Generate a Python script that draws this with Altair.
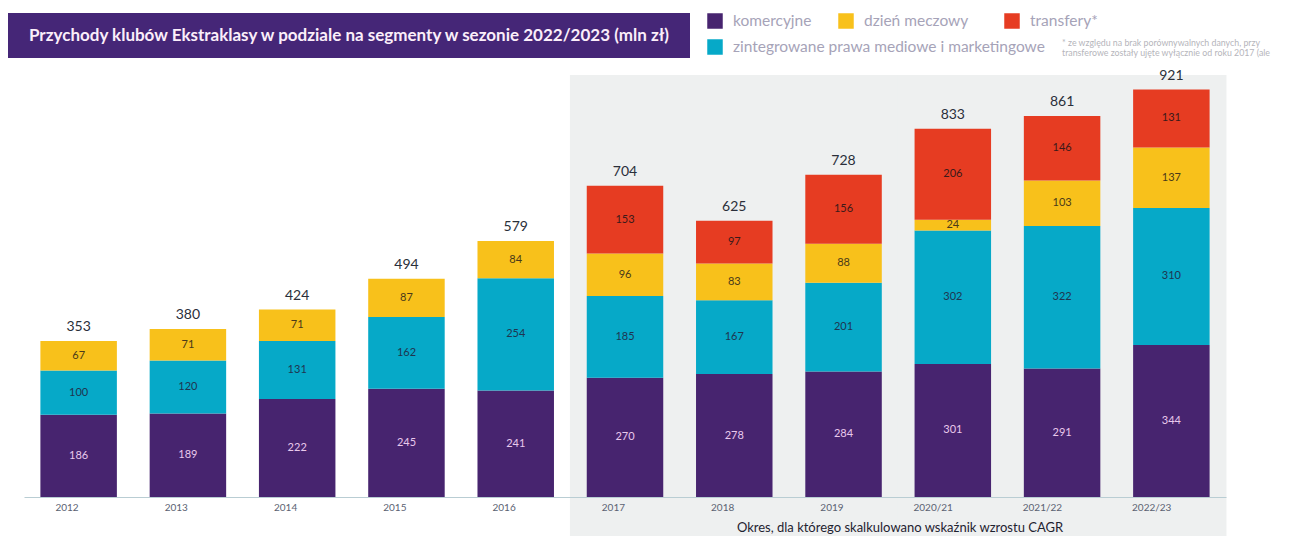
import altair as alt
import pandas as pd

years = ["2012", "2013", "2014", "2015", "2016", "2017", "2018", "2019", "2020/21", "2021/22", "2022/23"]
komercyjne = [186, 189, 222, 245, 241, 270, 278, 284, 301, 291, 344]
zintegrowane = [100, 120, 131, 162, 254, 185, 167, 201, 302, 322, 310]
dzien_meczowy = [67, 71, 71, 87, 84, 96, 83, 88, 24, 103, 137]
transfery = [0, 0, 0, 0, 0, 153, 97, 156, 206, 146, 131]
totals = [353, 380, 424, 494, 579, 704, 625, 728, 833, 861, 921]
cagr_years = years[5:]

seg_names = ["komercyjne", "zintegrowane prawa mediowe i marketingowe", "dzień meczowy", "transfery*"]
seg_values = [komercyjne, zintegrowane, dzien_meczowy, transfery]
seg_colors = ["#47246f", "#06a9c8", "#f8c11b", "#e63c22"]
label_colors = ["#e9c9ec", "#1f3550", "#4a3a1a", "#3a1a1a"]

rows = []
for i, (name, vals) in enumerate(zip(seg_names, seg_values)):
    for y, v in zip(years, vals):
        if v > 0:
            rows.append({"year": y, "segment": name, "value": v, "ord": i})
df = pd.DataFrame(rows)
tot_df = pd.DataFrame({"year": years, "total": totals})
bg_df = pd.DataFrame({"year": cagr_years})

W, H = 1202, 442
PX, PY = 24, 55  # page offset of plot area

xscale = alt.Scale(domain=years, paddingInner=0.3, paddingOuter=0.15)
yscale = alt.Scale(domain=[0, 1000])

X = alt.X("year:N", scale=xscale, sort=years, title=None,
          axis=alt.Axis(labelAngle=0, labelFont="Lato", labelFontSize=10, labelColor="#5b6272",
                        ticks=False, tickSize=0, labelPadding=10, domainColor="#b9cdd3", domainWidth=1,
                        grid=False, zindex=1))

bg = alt.Chart(bg_df).mark_bar(color="#eef0f0", width={"band": 1 / 0.7 + 0.012}).encode(
    x=alt.X("year:N", scale=xscale, sort=years, title=None),
    y=alt.value(75 - PY), y2=alt.value(560 - PY))

bars = alt.Chart(df).transform_stack(
    stack="value", groupby=["year"], sort=[alt.SortField("ord", order="ascending")], as_=["y0", "y1"]
).mark_bar().encode(
    x=X,
    y=alt.Y("y0:Q", scale=yscale, axis=None),
    y2="y1:Q",
    color=alt.Color("segment:N", scale=alt.Scale(domain=seg_names, range=seg_colors), legend=None),
)

seg_labels = alt.Chart(df).transform_stack(
    stack="value", groupby=["year"], sort=[alt.SortField("ord", order="ascending")], as_=["y0", "y1"]
).transform_calculate(mid="(datum.y0 + datum.y1) / 2").mark_text(
    font="Lato", fontSize=11, baseline="middle"
).encode(
    x=alt.X("year:N", scale=xscale, sort=years),
    y=alt.Y("mid:Q", scale=yscale),
    text="value:Q",
    color=alt.Color("segment:N", scale=alt.Scale(domain=seg_names, range=label_colors), legend=None),
)

tot_labels = alt.Chart(tot_df).mark_text(
    font="Lato", fontSize=14, color="#2a2f3a", baseline="middle", dy=-14
).encode(
    x=alt.X("year:N", scale=xscale, sort=years),
    y=alt.Y("total:Q", scale=yscale),
    text="total:Q",
)

deco = []
# title box
deco.append(alt.Chart(tot_df.head(1)).mark_rect(color="#452677").encode(
    x=alt.value(5 - PX), x2=alt.value(690 - PX), y=alt.value(13 - PY), y2=alt.value(58 - PY)))
deco.append(alt.Chart(tot_df.head(1)).mark_text(
    text="Przychody klubów Ekstraklasy  w podziale na segmenty w sezonie 2022/2023 (mln zł)",
    font="Lato", fontSize=17, fontWeight="bold", color="#fbeefa", align="center", baseline="middle"
).encode(x=alt.value(349 - PX), y=alt.value(36 - PY)))

# legend
legend_items = [
    (seg_names[0], seg_colors[0], 715, 21),
    (seg_names[2], seg_colors[2], 846, 21),
    (seg_names[3], seg_colors[3], 1012, 21),
    (seg_names[1], seg_colors[1], 715, 47),
]
for name, col, cx, cy in legend_items:
    deco.append(alt.Chart(tot_df.head(1)).mark_square(size=240, color=col, opacity=1).encode(
        x=alt.value(cx - PX), y=alt.value(cy - PY)))
    deco.append(alt.Chart(tot_df.head(1)).mark_text(
        text=name, font="Lato", fontSize=15.5, color="#a6a3b8", align="left", baseline="middle"
    ).encode(x=alt.value(cx + 18 - PX), y=alt.value(cy - PY)))

# footnote
deco.append(alt.Chart(tot_df.head(1)).mark_text(
    text=["* ze względu na brak porównywalnych danych, przy",
          "transferowe zostały ujęte wyłącznie od roku 2017 (ale"],
    font="Lato", fontSize=8.8, color="#b5b5bb", align="left", baseline="middle", lineHeight=10
).encode(x=alt.value(1062 - PX), y=alt.value(43 - PY)))

# CAGR note
deco.append(alt.Chart(tot_df.head(1)).mark_text(
    text="Okres, dla którego skalkulowano wskaźnik wzrostu CAGR",
    font="Lato", fontSize=13, color="#1f2330", align="center", baseline="middle"
).encode(x=alt.value(900 - PX), y=alt.value(528 - PY)))

chart = alt.layer(bg, bars, seg_labels, tot_labels, *deco).properties(
    width=W, height=H,
    autosize=alt.AutoSizeParams(type="none"),
    padding={"left": PX - 8, "top": PY - 8, "right": 1283 - PX - W, "bottom": 536 - PY - H},
    background="white",
).configure_view(stroke=None).resolve_scale(color="independent")

chart.save("out.html", embed_options={"renderer": "svg", "actions": False})
